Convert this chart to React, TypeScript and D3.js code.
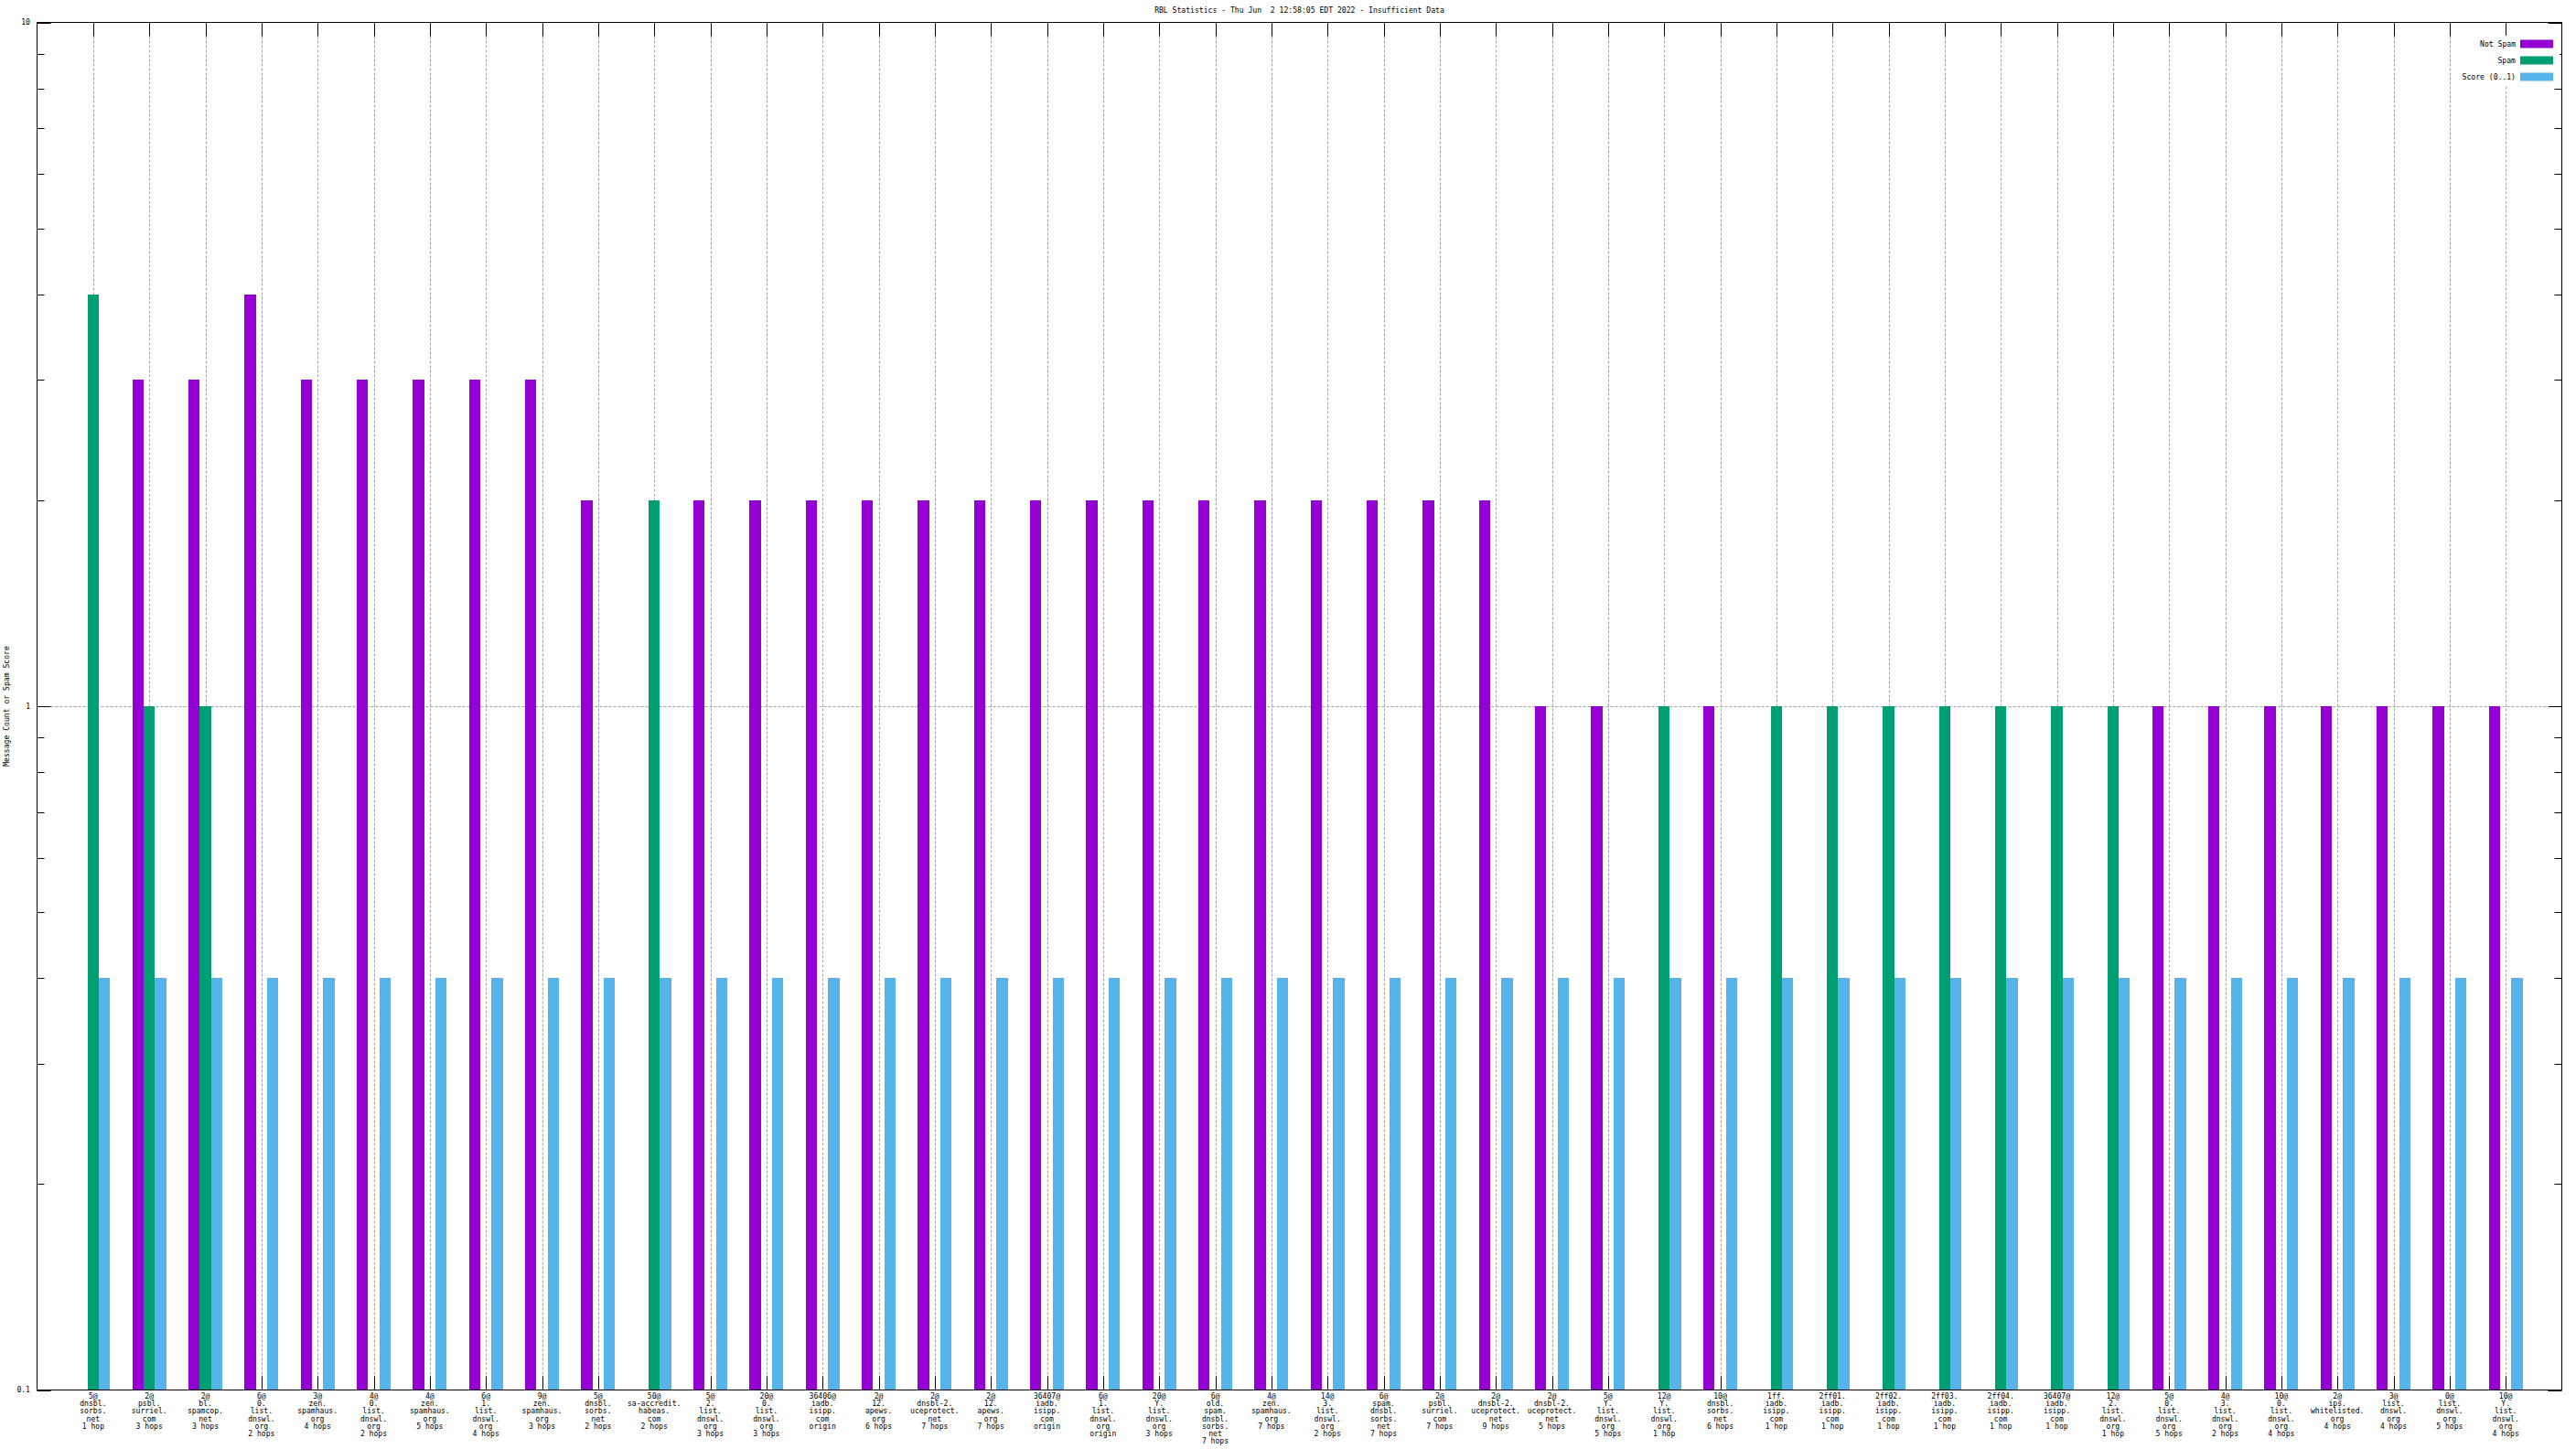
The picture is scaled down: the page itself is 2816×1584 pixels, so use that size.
import React from 'react';
import * as d3 from 'd3';

const title = 'RBL Statistics - Thu Jun  2 12:58:05 EDT 2022 - Insufficient Data';
const yLabel = 'Message Count or Spam Score';

const categories: string[] = [
  '5@\ndnsbl.\nsorbs.\nnet\n1 hop',
  '2@\npsbl.\nsurriel.\ncom\n3 hops',
  '2@\nbl.\nspamcop.\nnet\n3 hops',
  '6@\n0.\nlist.\ndnswl.\norg\n2 hops',
  '3@\nzen.\nspamhaus.\norg\n4 hops',
  '4@\n0.\nlist.\ndnswl.\norg\n2 hops',
  '4@\nzen.\nspamhaus.\norg\n5 hops',
  '6@\n1.\nlist.\ndnswl.\norg\n4 hops',
  '9@\nzen.\nspamhaus.\norg\n3 hops',
  '5@\ndnsbl.\nsorbs.\nnet\n2 hops',
  '50@\nsa-accredit.\nhabeas.\ncom\n2 hops',
  '5@\n2.\nlist.\ndnswl.\norg\n3 hops',
  '20@\n0.\nlist.\ndnswl.\norg\n3 hops',
  '36406@\niadb.\nisipp.\ncom\norigin',
  '2@\n12.\napews.\norg\n6 hops',
  '2@\ndnsbl-2.\nuceprotect.\nnet\n7 hops',
  '2@\n12.\napews.\norg\n7 hops',
  '36407@\niadb.\nisipp.\ncom\norigin',
  '6@\n1.\nlist.\ndnswl.\norg\norigin',
  '20@\nY.\nlist.\ndnswl.\norg\n3 hops',
  '6@\nold.\nspam.\ndnsbl.\nsorbs.\nnet\n7 hops',
  '4@\nzen.\nspamhaus.\norg\n7 hops',
  '14@\n3.\nlist.\ndnswl.\norg\n2 hops',
  '6@\nspam.\ndnsbl.\nsorbs.\nnet\n7 hops',
  '2@\npsbl.\nsurriel.\ncom\n7 hops',
  '2@\ndnsbl-2.\nuceprotect.\nnet\n9 hops',
  '2@\ndnsbl-2.\nuceprotect.\nnet\n5 hops',
  '5@\nY.\nlist.\ndnswl.\norg\n5 hops',
  '12@\nY.\nlist.\ndnswl.\norg\n1 hop',
  '10@\ndnsbl.\nsorbs.\nnet\n6 hops',
  '1ff.\niadb.\nisipp.\ncom\n1 hop',
  '2ff01.\niadb.\nisipp.\ncom\n1 hop',
  '2ff02.\niadb.\nisipp.\ncom\n1 hop',
  '2ff03.\niadb.\nisipp.\ncom\n1 hop',
  '2ff04.\niadb.\nisipp.\ncom\n1 hop',
  '36407@\niadb.\nisipp.\ncom\n1 hop',
  '12@\n2.\nlist.\ndnswl.\norg\n1 hop',
  '5@\n0.\nlist.\ndnswl.\norg\n5 hops',
  '4@\n3.\nlist.\ndnswl.\norg\n2 hops',
  '10@\n0.\nlist.\ndnswl.\norg\n4 hops',
  '2@\nips.\nwhitelisted.\norg\n4 hops',
  '3@\nlist.\ndnswl.\norg\n4 hops',
  '0@\nlist.\ndnswl.\norg\n5 hops',
  '10@\nY.\nlist.\ndnswl.\norg\n4 hops',
];

const notSpam = [0, 3, 3, 4, 3, 3, 3, 3, 3, 2, 0, 2, 2, 2, 2, 2, 2, 2, 2, 2, 2, 2, 2, 2, 2, 2, 1, 1, 0, 1, 0, 0, 0, 0, 0, 0, 0, 1, 1, 1, 1, 1, 1, 1];
const spam = [4, 1, 1, 0, 0, 0, 0, 0, 0, 0, 2, 0, 0, 0, 0, 0, 0, 0, 0, 0, 0, 0, 0, 0, 0, 0, 0, 0, 1, 0, 1, 1, 1, 1, 1, 1, 1, 0, 0, 0, 0, 0, 0, 0];
const score = categories.map(() => 0.4);

const seriesNames = ['Not Spam', 'Spam', 'Score (0..1)'];
const seriesColors = ['#9400d3', '#009e73', '#56b4e9'];

const yMajor = [0.1, 1, 10];
const yMajorLabels = ['0.1', '1', '10'];
const yMinor = [0.2, 0.3, 0.4, 0.5, 0.6, 0.7, 0.8, 0.9, 2, 3, 4, 5, 6, 7, 8, 9];

const W = 2816;
const H = 1584;
const left = 40.5;
const right = 2800.5;
const top = 24.5;
const bottom = 1519.5;
const font = 'DejaVu Sans Mono, monospace';
const fs = 8.1;

const App: React.FC = () => {
  const x = d3.scaleLinear().domain([-1, categories.length]).range([left, right]);
  const y = d3.scaleLog().domain([0.1, 10]).range([bottom, top]);
  const unit = x(1) - x(0);
  const bw = unit * 0.2;
  const series = [notSpam, spam, score];

  return (
    <svg width={W} height={H} style={{ position: 'absolute', left: 0, top: 0, background: '#fff' }}
      fontFamily={font} fontSize={fs}>
      <rect x={0} y={0} width={W} height={H} fill="#fff" />
      {/* grid */}
      {categories.map((_, i) => (
        <line key={'gx' + i} x1={Math.round(x(i)) + 0.5} x2={Math.round(x(i)) + 0.5} y1={top} y2={bottom}
          stroke="#a0a0a0" strokeDasharray="3,2" />
      ))}
      <line x1={left + 15} x2={right - 15} y1={Math.round(y(1)) + 0.5} y2={Math.round(y(1)) + 0.5}
        stroke="#a0a0a0" strokeDasharray="3,2" />
      {/* x ticks */}
      {categories.map((_, i) => (
        <g key={'tx' + i} stroke="#000">
          <line x1={Math.round(x(i)) + 0.5} x2={Math.round(x(i)) + 0.5} y1={bottom} y2={bottom - 15} />
          <line x1={Math.round(x(i)) + 0.5} x2={Math.round(x(i)) + 0.5} y1={top} y2={top + 15} />
        </g>
      ))}
      {/* y ticks */}
      {yMajor.map(v => (
        <g key={'ym' + v} stroke="#000">
          <line x1={left} x2={left + 15} y1={Math.round(y(v)) + 0.5} y2={Math.round(y(v)) + 0.5} />
          <line x1={right} x2={right - 15} y1={Math.round(y(v)) + 0.5} y2={Math.round(y(v)) + 0.5} />
        </g>
      ))}
      {yMinor.map(v => (
        <g key={'yn' + v} stroke="#000">
          <line x1={left} x2={left + 8} y1={Math.round(y(v)) + 0.5} y2={Math.round(y(v)) + 0.5} />
          <line x1={right} x2={right - 8} y1={Math.round(y(v)) + 0.5} y2={Math.round(y(v)) + 0.5} />
        </g>
      ))}
      {/* bars */}
      {series.map((vals, s) =>
        vals.map((v, i) => v > 0 ? (
          <rect key={'b' + s + '-' + i}
            x={x(i) + (s - 1) * bw - bw / 2} width={bw}
            y={y(v)} height={y(0.1) - y(v)}
            fill={seriesColors[s]} shapeRendering="crispEdges" />
        ) : null)
      )}
      {/* border */}
      <rect x={left} y={top} width={right - left} height={bottom - top} fill="none" stroke="#000" />
      {/* y tick labels */}
      {yMajor.map((v, k) => (
        <text key={'yl' + v} x={33} y={y(v)} dy="0.35em" textAnchor="end">{yMajorLabels[k]}</text>
      ))}
      {/* x tick labels */}
      {categories.map((c, i) => (
        <text key={'xl' + i} x={x(i)} y={1529} textAnchor="middle">
          {c.split('\n').map((line, j) => (
            <tspan key={j} x={x(i)} y={1529 + j * 8.2} style={{ whiteSpace: 'pre' }}>{line}</tspan>
          ))}
        </text>
      ))}
      {/* y label */}
      <text transform={`translate(10,${(top + bottom) / 2}) rotate(-90)`} textAnchor="middle">{yLabel}</text>
      {/* title */}
      <text x={(left + right) / 2} y={14} textAnchor="middle" style={{ whiteSpace: 'pre' }}>{title}</text>
      {/* legend */}
      <rect x={2684} y={39} width={114} height={56} fill="#fff" />
      {seriesNames.map((n, k) => (
        <g key={'lg' + k}>
          <text x={2750} y={48 + k * 18} dy="0.35em" textAnchor="end" style={{ whiteSpace: 'pre' }}>{n}</text>
          <rect x={2755} y={48 + k * 18 - 4.5} width={36} height={9} fill={seriesColors[k]} />
        </g>
      ))}
    </svg>
  );
};

export default App;
